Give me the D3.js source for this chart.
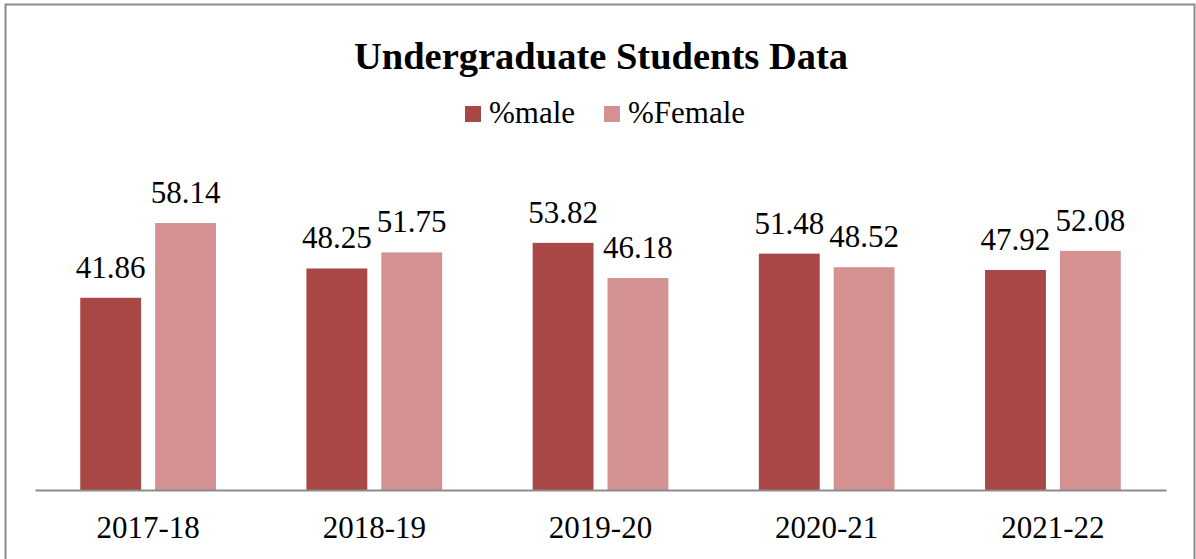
<!DOCTYPE html>
<html>
<head>
<meta charset="utf-8">
<script src="https://cdn.jsdelivr.net/npm/d3@7"></script>
<style>
  html, body { margin: 0; padding: 0; background: #fff; }
  svg { display: block; }
</style>
</head>
<body>
<svg id="chart" width="1196" height="559"></svg>
<script>
// Academic years on the category axis
const years = ["2017-18", "2018-19", "2019-20", "2020-21", "2021-22"];
// Series names shown in the legend
const seriesNames = ["%male", "%Female"];
// Share of undergraduate students by gender (%)
const maleValues = [41.86, 48.25, 53.82, 51.48, 47.92];
const femaleValues = [58.14, 51.75, 46.18, 48.52, 52.08];

const colors = { "%male": "#a84745", "%Female": "#d39191" };
const serif = "'Liberation Serif', 'Times New Roman', serif";

const rows = years.map((y, i) => ({
  year: y,
  values: [
    { key: seriesNames[0], value: maleValues[i] },
    { key: seriesNames[1], value: femaleValues[i] }
  ]
}));

const svg = d3.select("#chart");

// chart frame
svg.append("rect")
  .attr("x", 5.5).attr("y", 4.5)
  .attr("width", 1189).attr("height", 600)
  .attr("fill", "#fff")
  .attr("stroke", "#8c8c8c")
  .attr("stroke-width", 2);

const plot = { left: 35, right: 1166, top: 168.6, bottom: 490 };

const x = d3.scaleBand()
  .domain(years)
  .range([plot.left, plot.right])
  .paddingInner(0.4)
  .paddingOuter(0.2);

const xs = d3.scaleBand()
  .domain(seriesNames)
  .range([0, x.bandwidth()])
  .paddingInner(0.187)
  .paddingOuter(0);

const y = d3.scaleLinear()
  .domain([0, 70])
  .range([plot.bottom, plot.top]);

// title
svg.append("text")
  .attr("x", 601).attr("y", 69)
  .attr("text-anchor", "middle")
  .attr("font-family", serif)
  .attr("font-weight", "bold")
  .attr("font-size", 38.5)
  .attr("fill", "#000")
  .text("Undergraduate Students Data");

// legend
const legendItems = [
  { key: seriesNames[0], x: 465 },
  { key: seriesNames[1], x: 604 }
];
const lg = svg.append("g").selectAll("g")
  .data(legendItems).join("g")
  .attr("transform", d => `translate(${d.x},106)`);
lg.append("rect")
  .attr("width", 16).attr("height", 16)
  .attr("fill", d => colors[d.key]);
lg.append("text")
  .attr("x", 24).attr("y", 17)
  .attr("font-family", serif)
  .attr("font-size", 31)
  .attr("fill", "#000")
  .text(d => d.key);

// bars
const groups = svg.append("g").selectAll("g")
  .data(rows).join("g")
  .attr("transform", d => `translate(${x(d.year)},0)`);

groups.selectAll("rect")
  .data(d => d.values).join("rect")
  .attr("x", d => xs(d.key))
  .attr("y", d => y(d.value))
  .attr("width", xs.bandwidth())
  .attr("height", d => y(0) - y(d.value))
  .attr("fill", d => colors[d.key]);

// value labels
groups.selectAll("text")
  .data(d => d.values).join("text")
  .attr("x", d => xs(d.key) + xs.bandwidth() / 2)
  .attr("y", d => y(d.value) - 20)
  .attr("text-anchor", "middle")
  .attr("font-family", serif)
  .attr("font-size", 31)
  .attr("fill", "#000")
  .text(d => d.value.toFixed(2));

// category axis
const xAxis = svg.append("g")
  .attr("transform", `translate(0,${plot.bottom})`)
  .call(d3.axisBottom(x).tickSize(0).tickPadding(0));
xAxis.select(".domain")
  .attr("stroke", "#8c8c8c")
  .attr("stroke-width", 2);
xAxis.selectAll(".tick text")
  .attr("y", 48)
  .attr("dy", 0)
  .attr("font-family", serif)
  .attr("font-size", 31)
  .attr("fill", "#000");
</script>
</body>
</html>
